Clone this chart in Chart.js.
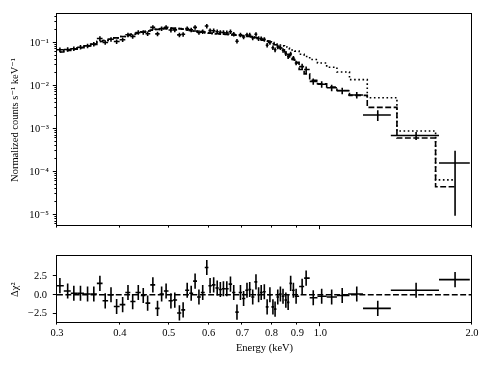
<!DOCTYPE html>
<html><head><meta charset="utf-8">
<script src="https://cdn.jsdelivr.net/npm/chart.js@4.4.1/dist/chart.umd.min.js"></script>
<style>
html,body{margin:0;padding:0;background:#fff;}
#wrap{position:relative;width:490px;height:368px;overflow:hidden;}
.box{position:absolute;left:0;width:490px;}
#top{top:0;height:240px;}
#bot{top:240px;height:128px;}
</style></head><body>
<div id="wrap"><div class="box" id="top"><canvas id="c1"></canvas></div><div class="box" id="bot"><canvas id="c2"></canvas></div></div>
<script>
// ---- data ----
const energy = [
0.304,0.315,0.324,0.334,0.345,0.355,0.365,0.374,0.384,0.394,
0.405,0.415,0.424,0.435,0.445,0.454,0.465,0.475,0.484,0.494,
0.505,0.514,0.525,0.534,0.544,0.554,0.564,0.574,0.584,0.595,
0.604,0.614,0.624,0.633,0.642,0.652,0.663,0.673,0.683,0.694,
0.704,0.715,0.724,0.734,0.745,0.754,0.763,0.774,0.784,0.794,
0.805,0.813,0.823,0.833,0.843,0.854,0.863,0.873,0.884,0.895,
0.920,0.937,0.968,1.006,1.053,1.105,1.181,1.300,1.549,1.851];
const counts = [
.069,.070,.073,.079,.085,.093,.126,.102,.121,.107,
.118,.154,.141,.174,.176,.163,.228,.161,.215,.230,
.198,.200,.153,.158,.215,.200,.228,.175,.183,.246,
.192,.191,.181,.175,.174,.172,.181,.159,.109,.154,
.137,.153,.152,.131,.158,.126,.125,.121,.088,.102,
.077,.069,.080,.077,.067,.056,.048,.055,.044,.034,
.028,.024,.0127,.0109,.0090,.0077,.0061,.0021,.00070,.00016];
const relErr = [
.12,.12,.12,.12,.12,.12,.12,.12,.12,.12,
.12,.12,.12,.12,.12,.12,.12,.12,.12,.12,
.12,.12,.12,.12,.12,.12,.12,.12,.12,.12,
.12,.12,.12,.12,.12,.12,.12,.12,.12,.12,
.12,.12,.12,.12,.12,.12,.12,.12,.12,.12,
.12,.12,.12,.12,.12,.12,.12,.12,.12,.12,
.17,.17,.17,.17,.17,.17,.17,.28,.21,.94];
const modelDashed = [
.061,.066,.071,.077,.084,.092,.107,.113,.121,.130,
.140,.149,.158,.168,.178,.188,.197,.205,.212,.217,
.219,.218,.214,.208,.201,.195,.188,.182,.177,.172,
.168,.165,.163,.161,.159,.157,.155,.153,.151,.149,
.146,.143,.140,.136,.131,.126,.121,.115,.109,.102,
.095,.090,.083,.076,.069,.061,.054,.047,.041,.035,
.024,.019,.0135,.0112,.0094,.0078,.0060,.00316,.00061,.000045];
const modelDotted = [
.061,.066,.071,.077,.084,.092,.107,.113,.121,.130,
.140,.149,.158,.168,.178,.188,.197,.205,.212,.217,
.219,.218,.214,.208,.201,.195,.188,.182,.177,.172,
.168,.165,.163,.161,.159,.157,.155,.153,.151,.149,
.146,.143,.140,.136,.131,.126,.121,.117,.112,.106,
.101,.097,.093,.089,.085,.080,.076,.072,.068,.064,
.054,.048,.041,.034,.027,.021,.0139,.0053,.00089,.000065];
const residuals = [
1.2,0.5,0.2,0.2,0.1,0.1,1.5,-0.8,0.0,-1.55,
-1.3,0.3,-0.9,0.3,-0.1,-1.1,1.3,-1.8,0.1,0.5,
-0.8,-0.7,-2.4,-2.0,0.6,0.2,1.8,-0.3,0.3,3.6,
1.2,1.3,0.9,0.7,0.8,0.8,1.4,0.3,-2.3,0.3,
-0.5,0.6,0.7,-0.3,1.7,0.0,0.3,0.4,-1.6,0.0,
-1.6,-1.9,-0.3,0.1,-0.2,-0.7,-1.0,1.5,0.6,-0.2,
1.1,2.2,-0.4,-0.2,-0.3,-0.1,0.1,-1.8,0.6,2.0];
const residErr = 1;
// energy bins of the last (wide) channels [lo, hi]
const wideBins = [[1.135,1.215],[1.215,1.38],[1.38,1.72],[1.72,1.98]];
const energyRange = [0.3, 2.0];
const xTickMinor = [0.3,0.4,0.5,0.6,0.7,0.8,0.9,2.0];
const xTickMajor = [1.0];
const yTopPowers = [-1,-2,-3,-4,-5];
const yTopRange = [5.6e-6, 0.46];
const residTicks = [-2.5, 0, 2.5];
const residRange = [-3.73, 5.08];

// ---- helpers ----
Chart.defaults.font.family = "'Liberation Serif', 'DejaVu Serif', serif";
Chart.defaults.font.size = 10.5;
Chart.defaults.color = '#000';
const SUP = {'-':'\u207B','0':'\u2070','1':'\u00B9','2':'\u00B2','3':'\u00B3','4':'\u2074','5':'\u2075','6':'\u2076','7':'\u2077','8':'\u2078','9':'\u2079'};
function powLabel(v){ const p = Math.round(Math.log10(v)); return '10' + String(p).split('').map(c=>SUP[c]).join(''); }
function binEdges(i){
  const k = i - (energy.length - wideBins.length);
  if (k >= 0) return wideBins[k];
  const e = energy;
  const hi = Math.sqrt(e[i]*e[i+1]);
  const lo = i > 0 ? Math.sqrt(e[i-1]*e[i]) : e[0]*e[0]/hi;
  return [lo, hi];
}
function line(ctx,x1,y1,x2,y2){ ctx.moveTo(x1,y1); ctx.lineTo(x2,y2); }
const MAJ = 3.7, MIN = 2.1;

function framePlugin(yMajor, yMinor){
  return { id:'frame', afterDraw(chart){
    const ctx = chart.ctx, a = chart.chartArea, xs = chart.scales.x, ys = chart.scales.y;
    const L = Math.round(a.left)-0.5, T = Math.round(a.top)-0.5, R = Math.round(a.right)-0.5, B = Math.round(a.bottom)-0.5;
    ctx.save(); ctx.strokeStyle = '#000'; ctx.lineWidth = 1;
    ctx.strokeRect(L, T, R-L, B-T);
    ctx.beginPath();
    xTickMinor.forEach(v=>{ const p = Math.round(xs.getPixelForValue(v))-0.5; line(ctx,p,B,p,B+MIN); });
    xTickMajor.forEach(v=>{ const p = Math.round(xs.getPixelForValue(v))-0.5; line(ctx,p,B,p,B+MAJ); });
    yMajor.forEach(v=>{ const p = Math.round(ys.getPixelForValue(v))-0.5; line(ctx,L,p,L-MAJ,p); });
    yMinor.forEach(v=>{ const p = Math.round(ys.getPixelForValue(v))-0.5; line(ctx,L,p,L-MIN,p); });
    ctx.stroke(); ctx.restore();
  }};
}
function errPlugin(values, errFn){
  return { id:'errbars', afterDatasetsDraw(chart){
    const ctx = chart.ctx, a = chart.chartArea, xs = chart.scales.x, ys = chart.scales.y;
    ctx.save(); ctx.beginPath(); ctx.rect(a.left,a.top,a.right-a.left,a.bottom-a.top); ctx.clip();
    ctx.strokeStyle = '#000'; ctx.lineWidth = 1.6; ctx.lineCap = 'butt';
    energy.forEach((e,i)=>{
      const [lo,hi] = binEdges(i); const v = values[i], d = errFn(i);
      const px = xs.getPixelForValue(e), py = ys.getPixelForValue(v);
      ctx.beginPath();
      line(ctx, xs.getPixelForValue(lo), py, xs.getPixelForValue(hi), py);
      line(ctx, px, ys.getPixelForValue(v-d), px, ys.getPixelForValue(v+d));
      ctx.stroke();
    });
    ctx.restore();
  }};
}
const commonOpts = { responsive:true, maintainAspectRatio:false, animation:false, devicePixelRatio:1,
  plugins:{legend:{display:false}, tooltip:{enabled:false}} };

// minor ticks of the log y axis
const yTopMinor = [];
for (let n=-6;n<=-1;n++) for (let m=2;m<=9;m++){ const v=m*Math.pow(10,n); if (v>=yTopRange[0] && v<=yTopRange[1]) yTopMinor.push(v); }
const yTopMajor = yTopPowers.map(p=>Math.pow(10,p));

// ---- top panel ----
new Chart(document.getElementById('c1'), {
  type:'line',
  data:{ datasets:[
    { data: energy.map((e,i)=>({x:e,y:modelDotted[i]})), stepped:'middle', borderColor:'#000', borderWidth:1.6, borderDash:[1.6,2.6], pointRadius:0, fill:false },
    { data: energy.map((e,i)=>({x:e,y:modelDashed[i]})), stepped:'middle', borderColor:'#000', borderWidth:1.6, borderDash:[5.9,2.5], pointRadius:0, fill:false }
  ]},
  options: Object.assign({}, commonOpts, {
    layout:{padding:{top:11,right:18,bottom:7,left:0}},
    scales:{
      x:{ type:'logarithmic', min:energyRange[0], max:energyRange[1], display:false },
      y:{ type:'logarithmic', min:yTopRange[0], max:yTopRange[1],
          grid:{display:false, drawTicks:false}, border:{display:false},
          afterBuildTicks(s){ s.ticks = yTopMajor.map(v=>({value:v})); },
          afterFit(s){ s.width = 57; },
          ticks:{ padding:8, autoSkip:false, callback:(v)=>powLabel(v) },
          title:{ display:true, text:'Normalized counts s\u207B\u00B9 keV\u207B\u00B9', padding:{top:8.7,bottom:0}, font:{size:10.5} } }
    }
  }),
  plugins:[ errPlugin(counts, i=>counts[i]*relErr[i]), framePlugin(yTopMajor, yTopMinor) ]
});

// ---- residual panel ----
new Chart(document.getElementById('c2'), {
  type:'line',
  data:{ datasets:[
    { data: energyRange.map(e=>({x:e,y:0})), borderColor:'#000', borderWidth:1.6, borderDash:[5.9,2.5], pointRadius:0, fill:false }
  ]},
  options: Object.assign({}, commonOpts, {
    layout:{padding:{top:9,right:18,bottom:0,left:0}},
    scales:{
      x:{ type:'logarithmic', min:energyRange[0], max:energyRange[1],
          grid:{display:false, drawTicks:false}, border:{display:false},
          afterBuildTicks(s){ s.ticks = xTickMinor.concat(xTickMajor).sort((a,b)=>a-b).map(v=>({value:v})); },
          afterFit(s){ s.height = 45; },
          ticks:{ padding:4, autoSkip:false, maxRotation:0, callback:(v)=>Number(v).toFixed(1) },
          title:{ display:true, text:'Energy (keV)', padding:{top:0,bottom:13.7}, font:{size:10.5} } },
      y:{ type:'linear', min:residRange[0], max:residRange[1],
          grid:{display:false, drawTicks:false}, border:{display:false},
          afterBuildTicks(s){ s.ticks = residTicks.map(v=>({value:v})); },
          afterFit(s){ s.width = 57; },
          ticks:{ padding:10, autoSkip:false, callback:(v)=> v<0 ? '\u2212'+Math.abs(v).toFixed(1) : v.toFixed(1) },
          title:{ display:true, text:'\u0394\u03C7\u00B2', padding:{top:8.7,bottom:0}, font:{size:10.5} } }
    }
  }),
  plugins:[ errPlugin(residuals, i=>residErr), framePlugin(residTicks, []) ]
});
</script>
</body></html>
